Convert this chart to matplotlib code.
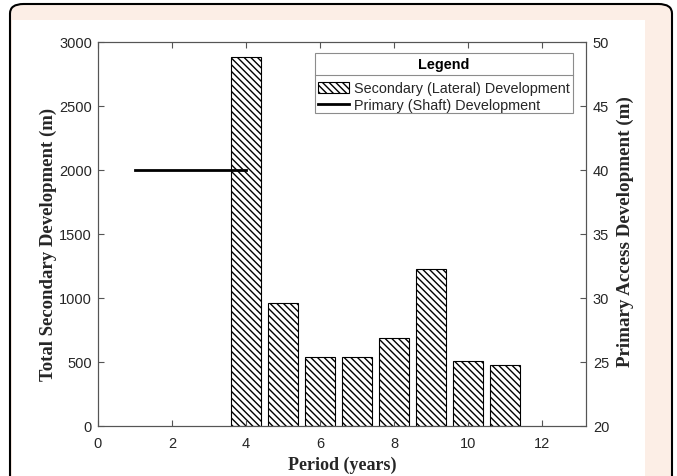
import matplotlib
matplotlib.use("Agg")
import matplotlib.pyplot as plt
from matplotlib.patches import FancyBboxPatch, Rectangle, Patch
from matplotlib.lines import Line2D

plt.rcParams['hatch.linewidth'] = 1.0

# data
periods = [4, 5, 6, 7, 8, 9, 10, 11]
secondary = [2880, 960, 540, 540, 690, 1230, 505, 475]
primary_periods = [1, 2, 3, 4]
primary = [40, 40, 40, 40]
x_ticks = [0, 2, 4, 6, 8, 10, 12]
left_ticks = [0, 500, 1000, 1500, 2000, 2500, 3000]
right_ticks = [20, 25, 30, 35, 40, 45, 50]
legend_labels = ['Secondary (Lateral) Development', 'Primary (Shaft) Development']

HATCH = '\\' * 5

W, H = 677, 477
fig = plt.figure(figsize=(W / 100, H / 100), dpi=100, facecolor='white')

# outer rounded frame (pink) and white panel
frame = FancyBboxPatch((10 / W, -0.1), (672 - 10) / W, (H - 5) / H + 0.1,
                       boxstyle="round,pad=0,rounding_size=0.02",
                       transform=fig.transFigure, facecolor='#FCEEE6',
                       edgecolor='black', linewidth=1.5, zorder=-2)
fig.patches.append(frame)
panel = Rectangle((12 / W, -0.05), (645 - 12) / W, (H - 21) / H + 0.05,
                  transform=fig.transFigure, facecolor='white',
                  edgecolor='none', zorder=-1)
fig.patches.append(panel)

axcol = '#555555'
txtcol = '#262626'
ax = fig.add_axes([98 / W, 1 - 427 / H, (586 - 98) / W, (427 - 43) / H])
ax.set_zorder(1)
ax.bar(periods, secondary, width=0.8, facecolor='white', edgecolor='black',
       hatch=HATCH, linewidth=0.8)
ax.set_xlim(0, 13.18)
ax.set_ylim(0, 3000)
ax.set_xticks(x_ticks)
ax.set_yticks(left_ticks)
ax.tick_params(direction='in', top=True, right=False, length=4,
               labelsize=10.5, colors=axcol, labelcolor=txtcol)
ax.tick_params(axis='x', pad=7.5)
ax.tick_params(axis='y', pad=4.3)
for s in ax.spines.values():
    s.set_color(axcol)
    s.set_linewidth(0.8)
for lbl in ax.get_xticklabels() + ax.get_yticklabels():
    lbl.set_fontfamily('Liberation Sans')

ax.set_xlabel('Period (years)', family='Liberation Serif', fontweight='bold',
              fontsize=13, color=txtcol, labelpad=4)
ax.set_ylabel('Total Secondary Development (m)', family='Liberation Serif',
              fontweight='bold', fontsize=13.5, color=txtcol)
ax.yaxis.set_label_coords(-0.083, 0.4766)

ax2 = ax.twinx()
ax2.set_zorder(2)
ax2.patch.set_visible(False)
ax2.plot(primary_periods, primary, color='black', linewidth=2)
ax2.set_ylim(20, 50)
ax2.set_yticks(right_ticks)
ax2.tick_params(direction='in', length=4, labelsize=10.5, colors=axcol,
                labelcolor=txtcol, pad=5)
for s in ax2.spines.values():
    s.set_color(axcol)
    s.set_linewidth(0.8)
for lbl in ax2.get_yticklabels():
    lbl.set_fontfamily('Liberation Sans')
ax2.set_ylabel('Primary Access Development (m)', family='Liberation Serif',
               fontweight='bold', fontsize=13.7, color=txtcol)
ax2.yaxis.set_label_coords(1.0625, 0.51)

# legend box with title row (MATLAB style)
lx0 = (315 - 98) / 488
lx1 = (573 - 98) / 488
ly1 = (427 - 54) / 384
ly0 = (427 - 114) / 384
lsep = (427 - 76) / 384
ax2.add_patch(Rectangle((lx0, ly0), lx1 - lx0, ly1 - ly0, transform=ax2.transAxes,
                        facecolor='white', edgecolor='#8c8c8c', linewidth=0.8,
                        zorder=5))
ax2.add_line(Line2D([lx0, lx1], [lsep, lsep], transform=ax2.transAxes,
                    color='#8c8c8c', linewidth=0.8, zorder=6))
ax2.text((lx0 + lx1) / 2, (ly1 + lsep) / 2, 'Legend', transform=ax2.transAxes,
         ha='center', va='center', family='Liberation Sans', fontweight='bold',
         fontsize=10.4, color='black', zorder=7)

handles = [Patch(facecolor='white', edgecolor='black', hatch=HATCH, linewidth=0.8),
           Line2D([], [], color='black', linewidth=2)]
leg = ax2.legend(handles, legend_labels, loc='upper left',
                 bbox_to_anchor=(lx0 - 4 / 488, lsep), borderaxespad=0,
                 prop={'family': 'Liberation Sans', 'size': 10.4},
                 frameon=False, handlelength=2.2, handletextpad=0.3,
                 borderpad=0.45, labelspacing=0.18)
leg.set_zorder(8)
for t in leg.get_texts():
    t.set_color(txtcol)

fig.savefig('out.png', dpi=100, facecolor=fig.get_facecolor())
